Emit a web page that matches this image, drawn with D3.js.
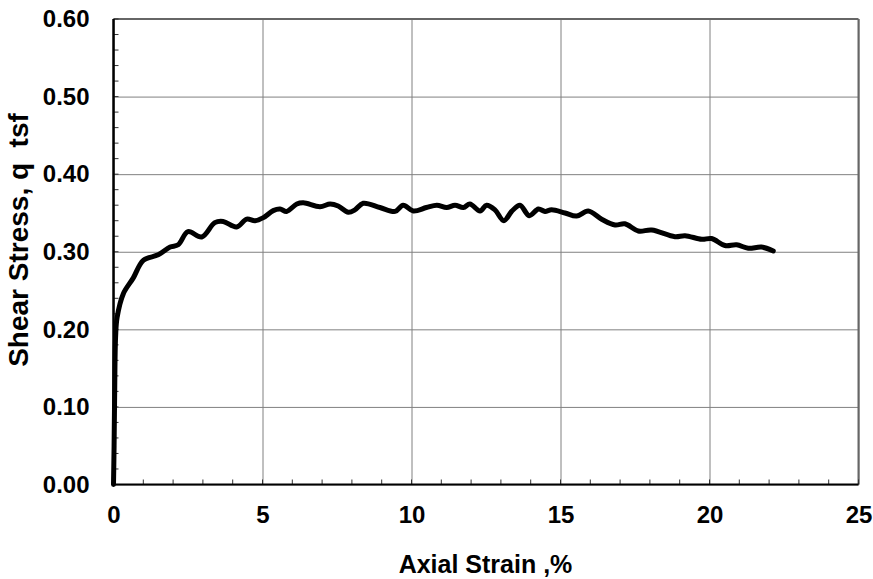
<!DOCTYPE html>
<html>
<head>
<meta charset="utf-8">
<script src="https://cdn.jsdelivr.net/npm/d3@7"></script>
<style>
  body { margin: 0; background: #fff; }
  svg { display: block; font-family: "Liberation Sans", Arial, sans-serif; font-weight: bold; }
  .grid line { stroke: #808080; stroke-width: 1; }
  .grid path { display: none; }
  .lbl path, .lbl line { display: none; }
  .lbl text { font-size: 24px; font-weight: bold; fill: #000; }
  .ytitle { white-space: pre; }
</style>
</head>
<body>
<svg id="chart" width="873" height="579"></svg>
<script>
// axial strain (%) and shear stress q (tsf)
const strain = [0, 0.02, 0.04, 0.07, 0.12, 0.33, 0.66, 1.0, 1.5, 1.9, 2.17, 2.5, 2.96, 3.4, 3.68, 4.13, 4.47, 4.75,
  5.03, 5.36, 5.59, 5.81, 6.15, 6.37, 6.93, 7.27, 7.54, 7.88, 8.1, 8.38, 8.94, 9.45, 9.72, 10.06, 10.5, 10.85,
  11.18, 11.46, 11.74, 11.96, 12.3, 12.52, 12.8, 13.1, 13.36, 13.64, 13.95, 14.26, 14.48, 14.7, 15.15, 15.54,
  15.93, 16.38, 16.83, 17.16, 17.61, 18.06, 18.84, 19.18, 19.74, 20.07, 20.52, 20.91, 21.3, 21.75, 22.14];
const stress = [0, 0.05, 0.12, 0.19, 0.215, 0.246, 0.266, 0.289, 0.296, 0.306, 0.309, 0.326, 0.319, 0.3375, 0.339, 0.332, 0.342, 0.340,
  0.344, 0.353, 0.355, 0.352, 0.3615, 0.363, 0.358, 0.3615, 0.359, 0.351, 0.354, 0.3625, 0.357, 0.352, 0.360, 0.3525, 0.357, 0.360,
  0.357, 0.360, 0.357, 0.3615, 0.3525, 0.360, 0.354, 0.340, 0.352, 0.360, 0.3465, 0.355, 0.352, 0.354, 0.350, 0.346,
  0.3525, 0.342, 0.3345, 0.336, 0.3268, 0.328, 0.3194, 0.3207, 0.316, 0.317, 0.308, 0.309, 0.3045, 0.306, 0.301];

const xTicks = [0, 5, 10, 15, 20, 25];
const yTicks = [0, 0.1, 0.2, 0.3, 0.4, 0.5, 0.6];
const xTitle = 'Axial Strain ,%';
const yTitle = 'Shear Stress, q  tsf';

const svg = d3.select('#chart');
const x = d3.scaleLinear().domain([0, 25]).range([113.5, 858.5]);
const y = d3.scaleLinear().domain([0, 0.6]).range([484.5, 19]);

// gridlines
svg.append('g').attr('class', 'grid')
  .attr('transform', `translate(0,${y(0)})`)
  .call(d3.axisBottom(x).tickValues(xTicks).tickSize(-(y(0) - y(0.6))).tickFormat(''));
svg.append('g').attr('class', 'grid')
  .attr('transform', `translate(${x(0)},0)`)
  .call(d3.axisLeft(y).tickValues(yTicks).tickSize(-(x(25) - x(0))).tickFormat(''));

// frame: top and right in grey, axes in black
svg.append('line').attr('x1', x(0)).attr('x2', x(25)).attr('y1', y(0.6)).attr('y2', y(0.6))
  .attr('stroke', '#666').attr('stroke-width', 2);
svg.append('line').attr('x1', x(25)).attr('x2', x(25)).attr('y1', y(0.6)).attr('y2', y(0))
  .attr('stroke', '#666').attr('stroke-width', 2);

// minor ticks, pointing into the plot
const minorX = d3.range(0, 25.01, 1);
const minorY = d3.range(0, 0.601, 0.02);
svg.append('g').selectAll('line').data(minorX).enter().append('line')
  .attr('x1', d => x(d)).attr('x2', d => x(d)).attr('y1', y(0)).attr('y2', y(0) - 5)
  .attr('stroke', '#333').attr('stroke-width', 1);
svg.append('g').selectAll('line').data(minorY).enter().append('line')
  .attr('x1', x(0)).attr('x2', x(0) + 5).attr('y1', d => y(d)).attr('y2', d => y(d))
  .attr('stroke', '#333').attr('stroke-width', 1);

svg.append('line').attr('x1', x(0)).attr('x2', x(25)).attr('y1', y(0)).attr('y2', y(0))
  .attr('stroke', '#000').attr('stroke-width', 2);
svg.append('line').attr('x1', x(0)).attr('x2', x(0)).attr('y1', y(0.6)).attr('y2', y(0))
  .attr('stroke', '#000').attr('stroke-width', 2.5);

// tick labels
svg.append('g').attr('class', 'lbl')
  .attr('transform', `translate(0,${y(0)})`)
  .call(d3.axisBottom(x).tickValues(xTicks).tickSize(0).tickPadding(21.5).tickFormat(d3.format('d')));
svg.append('g').attr('class', 'lbl')
  .attr('transform', `translate(${x(0)},0)`)
  .call(d3.axisLeft(y).tickValues(yTicks).tickSize(0).tickPadding(24).tickFormat(d3.format('.2f')));

// the curve
const pts = strain.map((s, i) => [s, stress[i]]);
svg.append('path').datum(pts)
  .attr('fill', 'none').attr('stroke', '#000').attr('stroke-width', 5)
  .attr('stroke-linejoin', 'round').attr('stroke-linecap', 'round')
  .attr('d', d3.line().x(d => x(d[0])).y(d => y(d[1])).curve(d3.curveCatmullRom.alpha(0.5)));

// axis titles
svg.append('text').attr('x', 485.5).attr('y', 573).attr('text-anchor', 'middle')
  .attr('font-size', 25).text(xTitle);
svg.append('text').attr('class', 'ytitle').attr('transform', 'translate(28,240) rotate(-90)')
  .attr('text-anchor', 'middle').attr('font-size', 28).text(yTitle);
</script>
</body>
</html>
